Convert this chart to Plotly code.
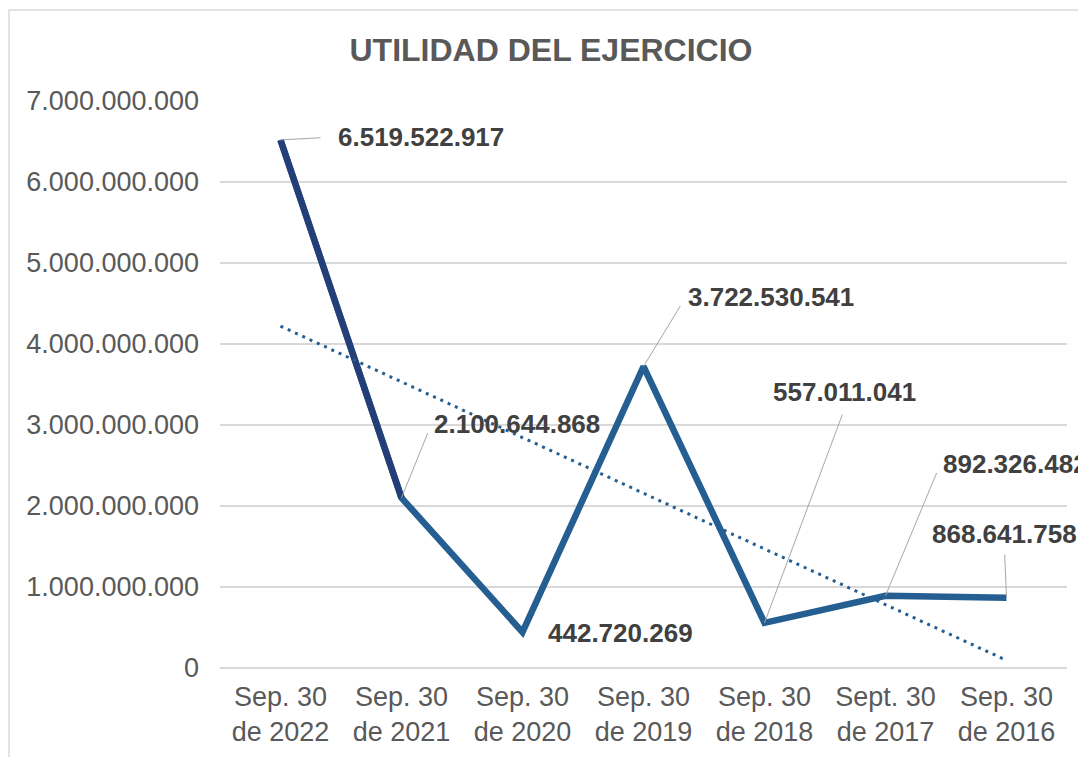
import numpy as np
import plotly.graph_objects as go

categories = ["Sep. 30<br>de 2022", "Sep. 30<br>de 2021", "Sep. 30<br>de 2020", "Sep. 30<br>de 2019",
              "Sep. 30<br>de 2018", "Sept. 30<br>de 2017", "Sep. 30<br>de 2016"]
values = [6519522917, 2100644868, 442720269, 3722530541, 557011041, 892326482, 868641758]
label_texts = ["6.519.522.917", "2.100.644.868", "442.720.269", "3.722.530.541",
               "557.011.041", "892.326.482", "868.641.758"]
y_ticks = [0, 1e9, 2e9, 3e9, 4e9, 5e9, 6e9, 7e9]
y_tick_labels = ["0", "1.000.000.000", "2.000.000.000", "3.000.000.000", "4.000.000.000",
                 "5.000.000.000", "6.000.000.000", "7.000.000.000"]

# label placement: (ax, ay, xanchor, yanchor, startstandoff) in pixels relative to the point
label_pos = [
    (55, -3, "left", "middle", 15),
    (30, -74, "left", "middle", 10),
    (23, 1, "left", "middle", 0),
    (42, -69, "left", "middle", 10),
    (80, -214, "center", "bottom", 6),
    (55, -132, "left", "middle", 10),
    (-2, -47, "center", "bottom", 4),
]

idx = np.arange(len(values))
slope, intercept = np.polyfit(idx, np.array(values, dtype=float), 1)
trend = intercept + slope * idx

fig = go.Figure()
fig.add_trace(go.Scatter(x=categories, y=values, mode="lines",
                         line=dict(color="#255E91", width=6.5), hoverinfo="skip"))
fig.add_trace(go.Scatter(x=categories[:2], y=values[:2], mode="lines",
                         line=dict(color="#243F78", width=6.5), hoverinfo="skip"))
fig.add_trace(go.Scatter(x=categories, y=trend, mode="lines",
                         line=dict(color="#255E91", width=3, dash="3px,5px"), hoverinfo="skip"))

annotations = []
for i, (c, v, t) in enumerate(zip(categories, values, label_texts)):
    ax, ay, xa, ya, sso = label_pos[i]
    if i == 2:
        annotations.append(dict(x=c, y=v, text="<b>%s</b>" % t, showarrow=False,
                                xanchor=xa, yanchor=ya, xshift=ax, yshift=-ay,
                                font=dict(size=26, color="#404040")))
    else:
        annotations.append(dict(x=c, y=v, text="<b>%s</b>" % t, showarrow=True, arrowhead=0,
                                arrowwidth=1, arrowcolor="#A6A6A6", ax=ax, ay=ay,
                                xanchor=xa, yanchor=ya, startstandoff=sso,
                                font=dict(size=26, color="#404040")))

L, T, PW, PH = 212, 93, 847, 567
fig.update_layout(
    width=1086, height=757,
    margin=dict(l=L, r=1086 - L - PW, t=T, b=757 - T - PH),
    paper_bgcolor="white", plot_bgcolor="white",
    showlegend=False,
    font=dict(family="Liberation Sans, Arial, sans-serif", color="#595959"),
    title=dict(text="<b>UTILIDAD DEL EJERCICIO</b>", x=0.5, xanchor="center", y=1 - 42 / 757,
               yanchor="middle", font=dict(size=32, color="#595959")),
    xaxis=dict(range=[-0.5, 6.5], showgrid=False, showline=False, ticks="",
               ticklabelstandoff=10,
               tickfont=dict(size=27, color="#595959")),
    yaxis=dict(range=[0, 7e9], tickvals=y_ticks, ticktext=y_tick_labels,
               showgrid=True, gridcolor="#D9D9D9", gridwidth=1.5,
               zeroline=True, zerolinecolor="#D9D9D9", zerolinewidth=1.5,
               showline=False, ticks="", ticklabelstandoff=20,
               tickfont=dict(size=27, color="#595959")),
    annotations=annotations,
    shapes=[dict(type="rect", xref="paper", yref="paper",
                 x0=(1 - L) / PW, x1=(1095 - L) / PW,
                 y0=(T + PH - 770) / PH, y1=(T + PH - 2) / PH,
                 line=dict(color="#D9D9D9", width=1.5), layer="below")],
)

fig.write_html("out.html")
